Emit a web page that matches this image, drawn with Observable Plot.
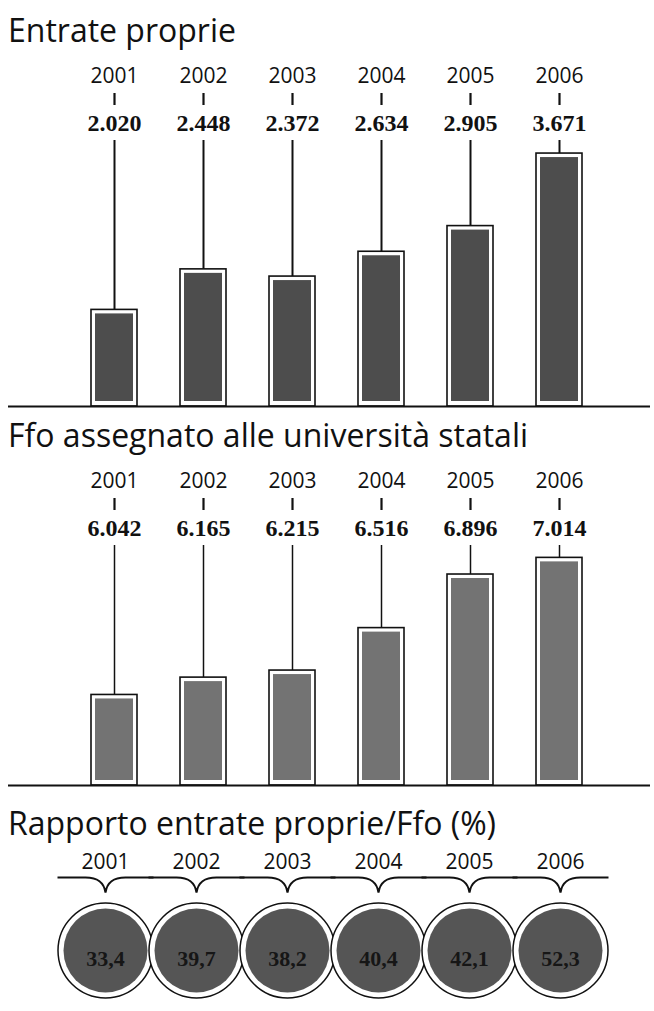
<!DOCTYPE html>
<html><head><meta charset="utf-8">
<script src="https://cdn.jsdelivr.net/npm/d3@7"></script>
<script src="https://cdn.jsdelivr.net/npm/@observablehq/plot@0.6"></script>
<style>
html,body{margin:0;padding:0;background:#fff;}
#page{position:relative;width:654px;height:1011px;overflow:hidden;font-family:"Open Sans",sans-serif;color:#111;}
.title{position:absolute;left:8px;font-size:32px;line-height:32px;white-space:nowrap;color:#111;font-weight:400;}
.panel{position:absolute;left:0;}
.panel svg [aria-label^="x-axis"] line,.panel svg [aria-label^="x-axis"] path{stroke-width:2.2px;}
.panel svg [aria-label^="x-axis"] text{font-size:21px;}
</style></head><body><div id="page"></div>
<script>
// ---- data ----
const years = ["2001", "2002", "2003", "2004", "2005", "2006"];
const entrateProprie = [2020, 2448, 2372, 2634, 2905, 3671];
const ffoStatali = [6042, 6165, 6215, 6516, 6896, 7014];
const rapportoPct = [33.4, 39.7, 38.2, 40.4, 42.1, 52.3];
const titles = ["Entrate proprie", "Ffo assegnato alle università statali", "Rapporto entrate proprie/Ffo (%)"];

const it = d3.formatLocale({decimal: ",", thousands: ".", grouping: [3], currency: ["€", ""]});
const fmtInt = it.format(",d");
const fmtPct = it.format(".1f");

const page = document.getElementById("page");
function addTitle(text, top) {
  const d = document.createElement("div");
  d.className = "title"; d.style.top = top + "px"; d.textContent = text;
  page.appendChild(d);
}
function addPanel(svg, top) {
  const d = document.createElement("div");
  d.className = "panel"; d.style.top = top + "px";
  d.appendChild(svg); page.appendChild(d);
}

function barPanel(values, yDomain, fillColor, stemWidth, height) {
  const data = years.map((year, i) => ({year, value: values[i]}));
  const marginTop = 54, marginBottom = 4;
  const frameH = height - marginTop - marginBottom;
  // stems start 36px below the frame top (under the value labels)
  const stemTop = yDomain[1] - 36 * (yDomain[1] - yDomain[0]) / frameH;
  return Plot.plot({
    width: 654, height, marginTop, marginBottom, marginLeft: 8, marginRight: 4,
    style: {fontFamily: '"Open Sans", sans-serif', fontSize: "21px", background: "transparent", color: "#111", overflow: "visible"},
    x: {domain: years, range: [90, 583], paddingInner: 0.485, paddingOuter: 0, axis: "top", tickSize: 12, tickPadding: 10, label: null},
    y: {domain: yDomain, clamp: true, axis: null},
    marks: [
      Plot.ruleX(data, {x: "year", y1: "value", y2: () => stemTop, stroke: "#111", strokeWidth: stemWidth}),
      Plot.barY(data, {x: "year", y: "value", fill: "white", stroke: "#111", strokeWidth: 1.6}),
      Plot.barY(data, {x: "year", y: "value", fill: fillColor, inset: 4, insetBottom: 5}),
      Plot.ruleY([yDomain[0]], {stroke: "#111", strokeWidth: 2}),
      Plot.text(data, {x: "year", text: d => fmtInt(d.value), frameAnchor: "top", lineAnchor: "bottom", dy: 26,
        fontFamily: '"Liberation Serif", serif', fontWeight: "bold", fontSize: 24, fill: "#111"})
    ]
  });
}

const braceSymbol = {
  draw(ctx, size) {
    const r = Math.sqrt(size / Math.PI);
    const w = 20, d = 15;
    ctx.moveTo(-r, 0);
    ctx.lineTo(-w, 0);
    ctx.bezierCurveTo(-w * 0.35, 0, -1.5, d * 0.35, 0, d);
    ctx.bezierCurveTo(1.5, d * 0.35, w * 0.35, 0, w, 0);
    ctx.lineTo(r, 0);
  }
};

function ratioPanel() {
  const data = years.map((year, i) => ({year, value: rapportoPct[i]}));
  return Plot.plot({
    width: 654, height: 166,
    marginTop: 32, marginBottom: 0, marginLeft: 0, marginRight: 0,
    style: {fontFamily: '"Open Sans", sans-serif', fontSize: "21px", background: "transparent", color: "#111", overflow: "visible"},
    x: {type: "point", domain: years, range: [57, 607], axis: "top", tickSize: 0, tickPadding: 9, label: null},
    marks: [
      Plot.dot(data, {x: "year", frameAnchor: "top", r: 48, symbol: braceSymbol, fill: "none", stroke: "#111", strokeWidth: 2}),
      Plot.dot(data, {x: "year", frameAnchor: "top", dy: 73, r: 47.5, fill: "white", stroke: "#111", strokeWidth: 1.5}),
      Plot.dot(data, {x: "year", frameAnchor: "top", dy: 73, r: 42, fill: "#555", stroke: "none"}),
      Plot.text(data, {x: "year", text: d => fmtPct(d.value), frameAnchor: "top", dy: 73,
        fontFamily: '"Liberation Serif", serif', fontWeight: "bold", fontSize: 22, fill: "#161616"})
    ]
  });
}

addTitle(titles[0], 14);
addPanel(barPanel(entrateProprie, [1000, 4189], "#4d4d4d", 2, 360), 50);
addTitle(titles[1], 419);
addPanel(barPanel(ffoStatali, [5400, 7357], "#737373", 1.5, 334), 455);
addTitle(titles[2], 807);
addPanel(ratioPanel(), 845);
</script>
</body></html>
